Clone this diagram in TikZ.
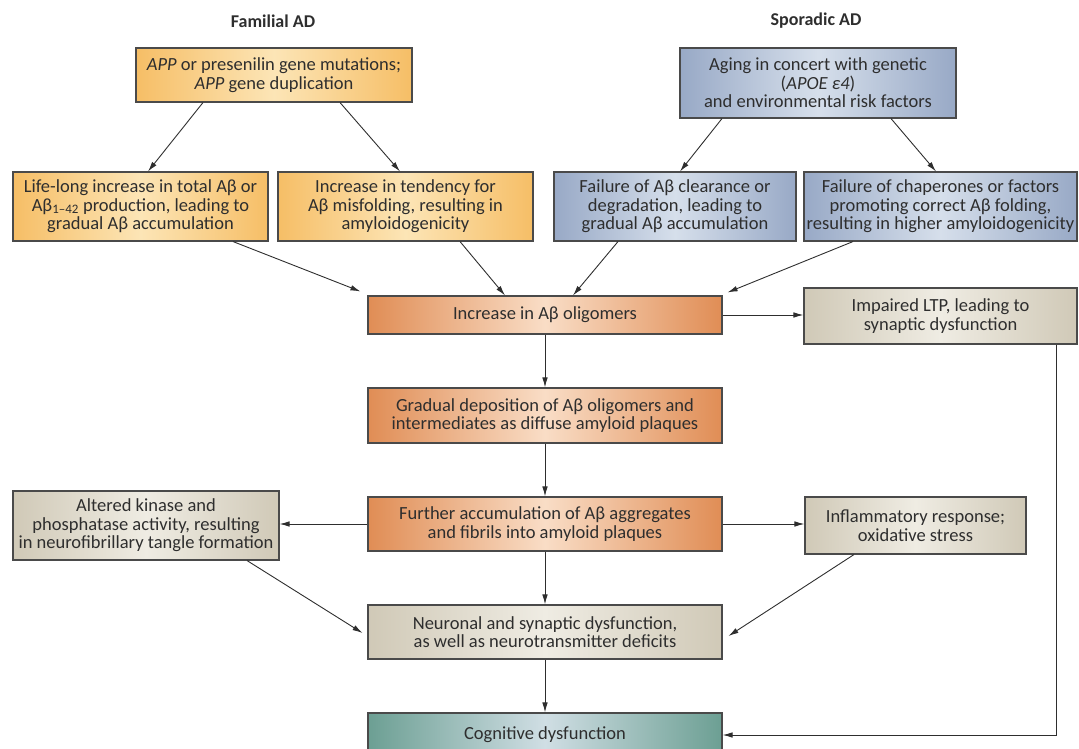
\documentclass[tikz,border=0pt]{standalone}
\usepackage{fontspec}
\setmainfont{Carlito}
\usetikzlibrary{arrows.meta}
\definecolor{adInk}{HTML}{2E2E2E}
\definecolor{adLine}{HTML}{4A4A4A}
\definecolor{famEdge}{HTML}{F6BE66}
\definecolor{famMid}{HTML}{FCE5B6}
\definecolor{spoEdge}{HTML}{98A9C6}
\definecolor{spoMid}{HTML}{D6DFEB}
\definecolor{oligEdge}{HTML}{E08D55}
\definecolor{oligMid}{HTML}{F9DDC6}
\definecolor{sideEdge}{HTML}{D0C9B7}
\definecolor{sideMid}{HTML}{EFECE3}
\definecolor{cogEdge}{HTML}{6C9F93}
\definecolor{cogMid}{HTML}{D0DEE4}
\tikzset{
 flowchart/.style={font=\fontsize{18.5}{18.5}\selectfont,text=adInk},
 box/.style={rectangle,draw=adLine,line width=1.1pt,align=center,inner sep=1pt},
 famBox/.style={box,left color=famEdge,right color=famEdge,middle color=famMid},
 spoBox/.style={box,left color=spoEdge,right color=spoEdge,middle color=spoMid},
 oligBox/.style={box,left color=oligEdge,right color=oligEdge,middle color=oligMid},
 sideBox/.style={box,left color=sideEdge,right color=sideEdge,middle color=sideMid},
 cogBox/.style={box,left color=cogEdge,right color=cogEdge,middle color=cogMid},
 groupTitle/.style={font=\fontsize{18}{18}\selectfont\bfseries},
 flow/.style={draw=adInk,line width=.9pt,-{Latex[length=10pt,width=5.5pt]}}
}

\begin{document}
\begin{tikzpicture}[flowchart,x=1pt,y=-1pt]
 \useasboundingbox (0,0) rectangle (1079,749);
 % the two origins
 \node[groupTitle] (famTitle) at (273,21) {Familial AD};
 \node[groupTitle] (spoTitle) at (816,21) {Sporadic AD};
 \node[famBox,minimum width=276pt,minimum height=54pt] (famMut) at (274,75)
   {\textit{APP} or presenilin gene mutations;\\\textit{APP} gene duplication};
 \node[spoBox,minimum width=276pt,minimum height=70pt] (spoRisk) at (818,83)
   {Aging in concert with genetic\\(\textit{APOE ε4})\\and environmental risk factors};
 \node[famBox,minimum width=255pt,minimum height=69pt] (famProd) at (140.5,206.5)
   {Life-long increase in total Aβ or\\Aβ\textsubscript{1--42} production, leading to\\gradual Aβ accumulation};
 \node[famBox,minimum width=255pt,minimum height=69pt] (famMisfold) at (405.5,206.5)
   {Increase in tendency for\\Aβ misfolding, resulting in\\amyloidogenicity};
 \node[spoBox,minimum width=242pt,minimum height=69pt] (spoClear) at (675,206.5)
   {Failure of Aβ clearance or\\degradation, leading to\\gradual Aβ accumulation};
 \node[spoBox,minimum width=273pt,minimum height=69pt] (spoChap) at (940.5,206.5)
   {Failure of chaperones or factors\\promoting correct Aβ folding,\\resulting in higher amyloidogenicity};
 % the cascade
 \node[oligBox,minimum width=354pt,minimum height=38pt] (olig) at (545,315) {Increase in Aβ oligomers};
 \node[sideBox,minimum width=273pt,minimum height=56pt] (ltp) at (940.5,316)
   {Impaired LTP, leading to\\synaptic dysfunction};
 \node[oligBox,minimum width=354pt,minimum height=55pt] (depo) at (545,415.5)
   {Gradual deposition of Aβ oligomers and\\intermediates as diffuse amyloid plaques};
 \node[oligBox,minimum width=354pt,minimum height=54pt] (plaque) at (545,524)
   {Further accumulation of Aβ aggregates\\and fibrils into amyloid plaques};
 \node[sideBox,minimum width=266pt,minimum height=69pt] (tangle) at (146,525.5)
   {Altered kinase and\\phosphatase activity, resulting\\in neurofibrillary tangle formation};
 \node[sideBox,minimum width=221pt,minimum height=57pt] (inflam) at (915.5,525.5)
   {Inflammatory response;\\oxidative stress};
 \node[sideBox,minimum width=354pt,minimum height=54pt] (neuro) at (545,632)
   {Neuronal and synaptic dysfunction,\\as well as neurotransmitter deficits};
 \node[cogBox,minimum width=354pt,minimum height=44pt] (cogn) at (545,735) {Cognitive dysfunction};
 % connectors
 \draw[flow] ([xshift=-71pt]famMut.south) -- ([xshift=7.5pt]famProd.north);
 \draw[flow] ([xshift=66pt]famMut.south) -- ([xshift=-5.5pt]famMisfold.north);
 \draw[flow] ([xshift=-96pt]spoRisk.south) -- ([xshift=5pt]spoClear.north);
 \draw[flow] ([xshift=73pt]spoRisk.south) -- ([xshift=-4.5pt]spoChap.north);
 \draw[flow] ([xshift=92.5pt]famProd.south) -- ([xshift=-7pt,yshift=4pt]olig.north west);
 \draw[flow] ([xshift=54.5pt]famMisfold.south) -- ([xshift=-40pt]olig.north);
 \draw[flow] ([xshift=-57pt]spoClear.south) -- ([xshift=28pt]olig.north);
 \draw[flow] ([xshift=-87.5pt]spoChap.south) -- ([xshift=5pt,yshift=3pt]olig.north east);
 \draw[flow] (olig.east) -- (olig.east -| ltp.west);
 \draw[flow] (olig) -- (depo);
 \draw[flow] (depo) -- (plaque);
 \draw[flow] (plaque.west) -- (plaque.west -| tangle.east);
 \draw[flow] (plaque.east) -- (plaque.east -| inflam.west);
 \draw[flow] (plaque) -- (neuro);
 \draw[flow] ([xshift=101pt]tangle.south) -- ([xshift=-5pt,yshift=-1pt]neuro.west);
 \draw[flow] ([xshift=-61.5pt]inflam.south) -- ([xshift=6pt,yshift=-4pt]neuro.east);
 \draw[flow] (neuro) -- (cogn);
 \draw[flow] ([xshift=115.5pt]ltp.south) |- (cogn.east);
\end{tikzpicture}
\end{document}
